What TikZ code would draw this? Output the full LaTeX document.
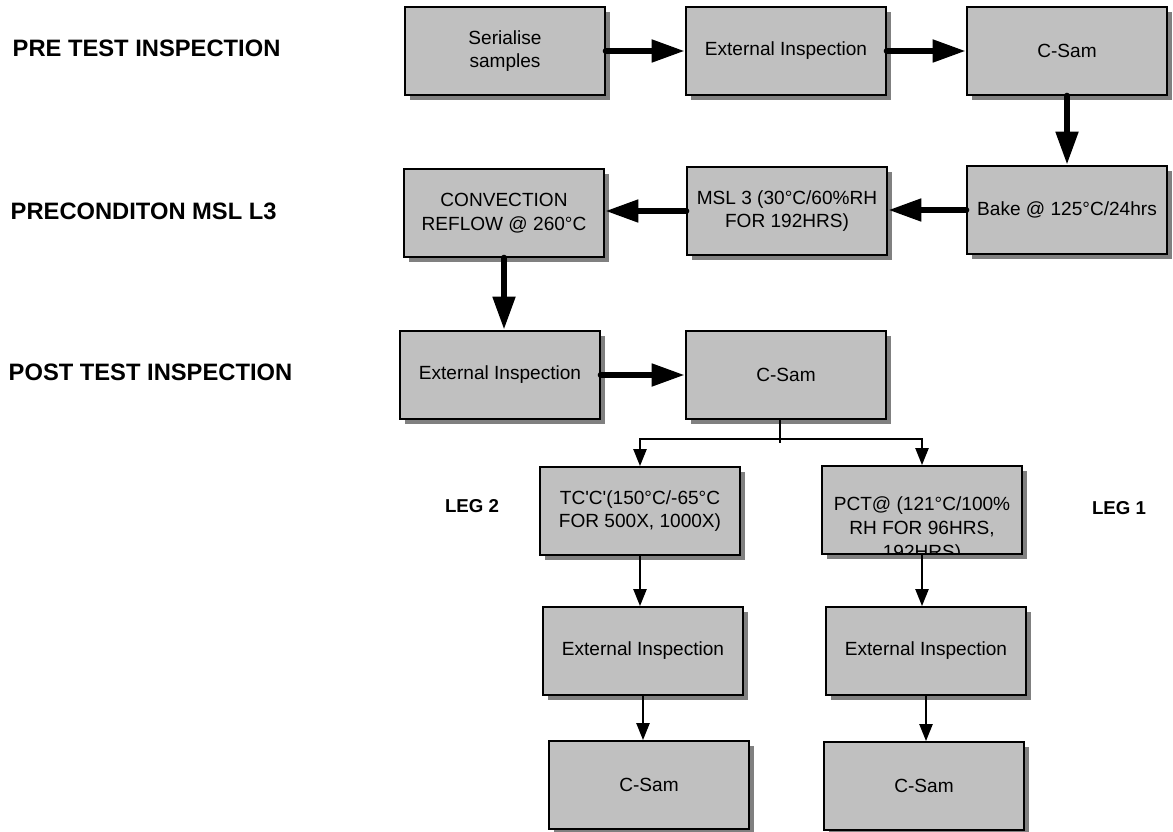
\documentclass[tikz,border=0pt]{standalone}
\usepackage{fontspec}
\setmainfont{Liberation Sans}[Ligatures=TeXOff]
\usetikzlibrary{arrows.meta,shadows}

\definecolor{boxgray}{RGB}{192,192,192}
\definecolor{shadegray}{RGB}{128,128,128}
\newcommand{\boxfont}{\fontsize{14.3}{17.8}\selectfont}
\newcommand{\phasefont}{\fontsize{17.8}{21}\selectfont\bfseries}
\newcommand{\legfont}{\fontsize{14}{17}\selectfont\bfseries}

\tikzset{
  stage/.style={draw, line width=1.5pt, fill=boxgray, minimum width=150pt,
    minimum height=66pt, inner sep=2pt, align=center, font=\boxfont,
    drop shadow={shadow xshift=3.75pt, shadow yshift=-3.75pt, fill=shadegray, opacity=1}},
  heavy/.style={line width=5pt, line cap=round, -{Triangle[length=25pt,width=16pt]}},
  light/.style={line width=1.1pt, -{Triangle[length=12.75pt,width=10pt]}},
  phase/.style={anchor=west, font=\phasefont},
  leg/.style={font=\legfont}
}

\begin{document}
\begin{tikzpicture}[x=0.75pt, y=-0.75pt]
    \useasboundingbox (0,0) rectangle (1173,831);

    % Phase labels on the left
    \node[phase] (pre) at (8,48) {PRE TEST INSPECTION};
    \node[phase] (precond) at (6,211) {PRECONDITON MSL L3};
    \node[phase] (post) at (4,372) {POST TEST INSPECTION};

    % Pre test inspection row
    \node[stage] (serial) at (505,51) {Serialise\\samples};
    \node[stage] (extpre) at (786,51) {External Inspection};
    \node[stage] (csampre) at (1067,51) {C-Sam};

    % Preconditioning row
    \node[stage] (bake) at (1067,210) {Bake @ 125°C/24hrs};
    \node[stage] (msl) at (787,211) {MSL 3 (30°C/60\%RH\\FOR 192HRS)};
    \node[stage] (reflow) at (504,213) {CONVECTION\\REFLOW @ 260°C};

    % Post test inspection row
    \node[stage] (extpost) at (500,375) {External Inspection};
    \node[stage] (csampost) at (786,375) {C-Sam};
    \coordinate (fork) at (780,439);

    % Leg 2
    \node[leg] (leg2) at (472,506) {LEG 2};
    \node[stage] (tc) at (640,511) {TC'C'(150°C/-65°C\\FOR 500X, 1000X)};
    \node[stage] (exttc) at (643,651) {External Inspection};
    \node[stage] (csamtc) at (649,785) {C-Sam};

    % Leg 1
    \node[leg] (leg1) at (1119,508) {LEG 1};
    \node[stage, path picture={
        \node[align=center, font=\boxfont] at ([yshift=-14.5pt]path picture bounding box.center)
          {PCT@ (121°C/100\%\\RH FOR 96HRS,\\192HRS)};}] (pct) at (922,510) {};
    \node[stage] (extpct) at (926,651) {External Inspection};
    \node[stage] (csampct) at (924,786) {C-Sam};

    % Heavy connectors
    \draw[heavy] (serial.east) -- (extpre.west);
    \draw[heavy] (extpre.east) -- (csampre.west);
    \draw[heavy] (csampre.south) -- (bake.north);
    \draw[heavy] (bake.west) -- (bake.west -| msl.east);
    \draw[heavy] (msl.west) -- (msl.west -| reflow.east);
    \draw[heavy] (reflow.south) -- (reflow.south |- extpost.north);
    \draw[heavy] (extpost.east) -- (extpost.east -| csampost.west);

    % Split into the two legs
    \draw[line width=1.1pt] (fork |- csampost.south) -- ([yshift=-3pt]fork);
    \draw[light] (fork) -| (tc.north);
    \draw[light] (fork) -| (pct.north);
    \draw[light] (tc.south) -- (tc.south |- exttc.north);
    \draw[light] (exttc.south) -- (exttc.south |- csamtc.north);
    \draw[light] (pct.south) -- (pct.south |- extpct.north);
    \draw[light] (extpct.south) -- (extpct.south |- csampct.north);

\end{tikzpicture}
\end{document}
